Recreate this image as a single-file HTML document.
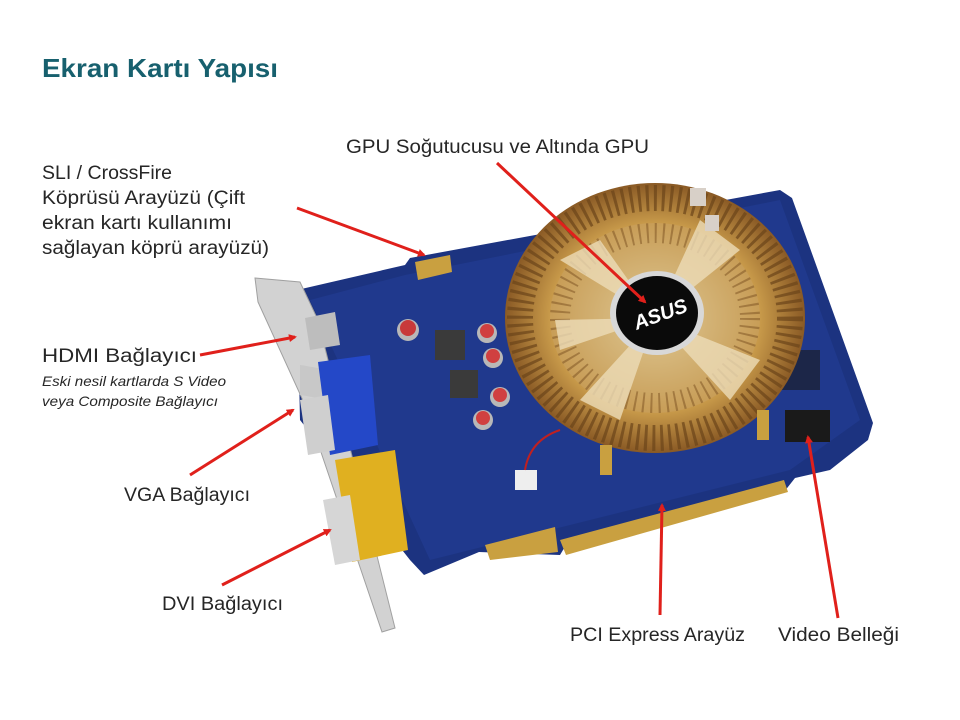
<!DOCTYPE html>
<html><head><meta charset="utf-8"><style>
html,body{margin:0;padding:0;background:#fff;}
svg{display:block}
text{font-family:"Liberation Sans",sans-serif;fill:#262626;}
</style></head><body>
<svg width="960" height="720" viewBox="0 0 960 720" xmlns="http://www.w3.org/2000/svg">
<defs>
<marker id="ah" markerWidth="8" markerHeight="8" refX="6" refY="4" orient="auto" markerUnits="userSpaceOnUse" viewBox="0 0 8 8">
<path d="M0,0 L8,4 L0,8 z" fill="#e0201b"/></marker>
<radialGradient id="hs" cx="50%" cy="50%" r="50%">
<stop offset="0.3" stop-color="#e8d6a0"/><stop offset="0.7" stop-color="#c89a4a"/><stop offset="1" stop-color="#8a5a25"/></radialGradient>
</defs>
<rect width="960" height="720" fill="#fff"/>
<text x="42" y="77" font-size="26" font-weight="bold" style="fill:#17606e" textLength="236" lengthAdjust="spacingAndGlyphs">Ekran Kartı Yapısı</text>

<!-- PCB -->
<polygon points="297,290 405,265 410,258 780,190 792,198 873,423 868,440 830,470 795,478 784,492 566,545 560,555 479,552 424,575 410,560 300,420" fill="#1c3380"/>
<polygon points="310,300 405,275 780,200 860,420 790,470 430,560" fill="#23409a" opacity="0.5"/>
<polygon points="415,262 450,255 452,272 418,280" fill="#c9a040"/>
<polygon points="560,540 784,480 788,492 566,555" fill="#c9a040"/>
<polygon points="485,545 555,527 558,552 490,560" fill="#c9a040"/>
<rect x="435" y="330" width="30" height="30" fill="#3a3a3a"/>
<rect x="450" y="370" width="28" height="28" fill="#3a3a3a"/>
<circle cx="408" cy="330" r="11" fill="#b8b8b8"/><circle cx="408" cy="328" r="8" fill="#c83a3a"/>
<circle cx="487" cy="333" r="10" fill="#b8b8b8"/><circle cx="487" cy="331" r="7" fill="#d04040"/>
<circle cx="493" cy="358" r="10" fill="#b8b8b8"/><circle cx="493" cy="356" r="7" fill="#d04040"/>
<circle cx="500" cy="397" r="10" fill="#b8b8b8"/><circle cx="500" cy="395" r="7" fill="#d04040"/>
<circle cx="483" cy="420" r="10" fill="#b8b8b8"/><circle cx="483" cy="418" r="7" fill="#d04040"/>
<rect x="515" y="470" width="22" height="20" fill="#eee"/>
<path d="M525,470 Q530,440 560,430" stroke="#c02020" stroke-width="2" fill="none"/>
<rect x="785" y="410" width="45" height="32" fill="#1a1a1a"/>
<rect x="775" y="350" width="45" height="40" fill="#1a1a1a" opacity="0.6"/>
<!-- heatsink -->
<ellipse cx="655" cy="318" rx="150" ry="135" fill="url(#hs)"/>
<ellipse cx="655" cy="318" rx="135" ry="120" fill="none" stroke="#6b4419" stroke-width="26" stroke-dasharray="3 5" opacity="0.7"/>
<ellipse cx="655" cy="318" rx="105" ry="95" fill="#c8a060" opacity="0.6"/>
<ellipse cx="655" cy="318" rx="95" ry="85" fill="none" stroke="#7a5020" stroke-width="20" stroke-dasharray="2 6" opacity="0.5"/>
<path d="M655,318 L560,260 L600,240 Z M655,318 L700,220 L740,250 Z M655,318 L760,360 L730,400 Z M655,318 L620,420 L580,400 Z M655,318 L560,350 L555,320 Z" fill="#ecdcb8" opacity="0.8"/>
<ellipse cx="657" cy="313" rx="47" ry="42" fill="#d8d8d8"/>
<ellipse cx="657" cy="313" rx="41" ry="37" fill="#0a0a0a"/>
<text x="632" y="322" font-size="20" font-weight="bold" font-style="italic" style="fill:#fff" transform="rotate(-20 657 313)">ASUS</text>
<rect x="690" y="188" width="16" height="18" fill="#d8d0c8"/>
<rect x="705" y="215" width="14" height="16" fill="#d8d0c8"/>
<rect x="600" y="445" width="12" height="30" fill="#c9a040"/>
<rect x="757" y="410" width="12" height="30" fill="#c9a040"/>
<!-- bracket -->
<polygon points="255,278 300,282 318,320 395,628 382,632 305,405 258,302" fill="#d2d2d2" stroke="#a0a0a0" stroke-width="1"/>
<rect x="300" y="312" width="22" height="30" fill="#c8c8c8" transform="skewY(10)"/>
<polygon points="305,318 335,312 340,345 310,350" fill="#bdbdbd"/>
<polygon points="318,362 370,355 378,445 330,455" fill="#2448c8"/>
<polygon points="300,400 328,395 335,450 308,455" fill="#cfcfcf"/>
<polygon points="335,460 395,450 408,550 352,562" fill="#e0b020"/>
<polygon points="323,500 350,495 360,560 335,565" fill="#d6d6d6"/>

<g stroke="#e0201b" stroke-width="3" fill="none" marker-end="url(#ah)">
<line x1="297" y1="208" x2="424" y2="255"/>
<line x1="497" y1="163" x2="645" y2="302"/>
<line x1="200" y1="355" x2="295" y2="337"/>
<line x1="190" y1="475" x2="293" y2="410"/>
<line x1="222" y1="585" x2="330" y2="530"/>
<line x1="660" y1="615" x2="662" y2="505"/>
<line x1="838" y1="618" x2="808" y2="437"/>
</g>

<g font-size="19">
<text x="42" y="179" textLength="130" lengthAdjust="spacingAndGlyphs">SLI / CrossFire</text>
<text x="42" y="204" textLength="203" lengthAdjust="spacingAndGlyphs">Köprüsü Arayüzü (Çift</text>
<text x="42" y="229" textLength="190" lengthAdjust="spacingAndGlyphs">ekran kartı kullanımı</text>
<text x="42" y="254" textLength="227" lengthAdjust="spacingAndGlyphs">sağlayan köprü arayüzü)</text>
<text x="346" y="153" textLength="303" lengthAdjust="spacingAndGlyphs">GPU Soğutucusu ve Altında GPU</text>
<text x="42" y="362" textLength="155" lengthAdjust="spacingAndGlyphs">HDMI Bağlayıcı</text>
<text x="124" y="501" textLength="126" lengthAdjust="spacingAndGlyphs">VGA Bağlayıcı</text>
<text x="162" y="610" textLength="121" lengthAdjust="spacingAndGlyphs">DVI Bağlayıcı</text>
<text x="570" y="641" textLength="175" lengthAdjust="spacingAndGlyphs">PCI Express Arayüz</text>
<text x="778" y="641" textLength="121" lengthAdjust="spacingAndGlyphs">Video Belleği</text>
</g>
<g font-size="14" font-style="italic">
<text x="42" y="386" textLength="184" lengthAdjust="spacingAndGlyphs">Eski nesil kartlarda S Video</text>
<text x="42" y="406" textLength="176" lengthAdjust="spacingAndGlyphs">veya Composite Bağlayıcı</text>
</g>
</svg>
</body></html>
